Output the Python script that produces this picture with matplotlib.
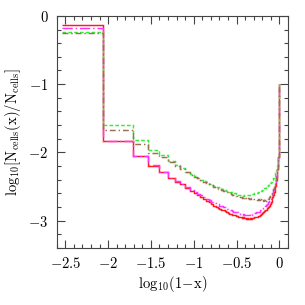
import numpy as np
import matplotlib
matplotlib.use('Agg')
import matplotlib.pyplot as plt
from matplotlib.ticker import MultipleLocator

plt.rcParams['mathtext.fontset'] = 'cm'

# bins in (1-x), width 0.01 -> centres 0.005 ... 0.995
bin_centres = np.arange(0.005, 1.0, 0.01)

red = [-0.13, -1.83, -2.05, -2.195, -2.29, -2.38, -2.43, -2.47, -2.52, -2.56,
       -2.60, -2.63, -2.66, -2.69, -2.71, -2.73, -2.76, -2.78, -2.80, -2.81,
       -2.83, -2.84, -2.85, -2.86, -2.88, -2.89, -2.90, -2.90, -2.91, -2.92,
       -2.92, -2.93, -2.93, -2.94, -2.94, -2.95, -2.95, -2.96, -2.95, -2.96,
       -2.96, -2.97, -2.96, -2.97, -2.97, -2.97, -2.96, -2.97, -2.96, -2.96,
       -2.96, -2.95, -2.95, -2.95, -2.94, -2.94, -2.93, -2.93, -2.93, -2.92,
       -2.91, -2.90, -2.90, -2.89, -2.88, -2.87, -2.86, -2.86, -2.85, -2.84,
       -2.84, -2.83, -2.82, -2.81, -2.80, -2.79, -2.78, -2.77, -2.75, -2.74,
       -2.72, -2.70, -2.68, -2.66, -2.64, -2.62, -2.60, -2.58, -2.55, -2.52,
       -2.49, -2.45, -2.41, -2.36, -2.31, -2.25, -2.17, -2.07, -1.90, -1.00]

magenta = [-0.18, -1.83, -2.05, -2.19, -2.29, -2.37, -2.42, -2.46, -2.51, -2.55,
           -2.58, -2.61, -2.63, -2.66, -2.68, -2.70, -2.72, -2.74, -2.75, -2.76,
           -2.78, -2.79, -2.80, -2.81, -2.83, -2.84, -2.85, -2.85, -2.86, -2.87,
           -2.87, -2.88, -2.88, -2.89, -2.89, -2.90, -2.90, -2.91, -2.90, -2.91,
           -2.91, -2.91, -2.91, -2.91, -2.91, -2.91, -2.90, -2.91, -2.90, -2.90,
           -2.90, -2.89, -2.89, -2.89, -2.88, -2.88, -2.87, -2.87, -2.87, -2.86,
           -2.85, -2.84, -2.84, -2.83, -2.82, -2.81, -2.80, -2.80, -2.79, -2.78,
           -2.77, -2.76, -2.75, -2.74, -2.73, -2.72, -2.71, -2.70, -2.68, -2.67,
           -2.65, -2.63, -2.61, -2.59, -2.57, -2.55, -2.53, -2.51, -2.48, -2.45,
           -2.43, -2.39, -2.35, -2.31, -2.26, -2.20, -2.12, -2.02, -1.86, -1.00]

green = [-0.23, -1.606, -1.815, -1.96, -2.04, -2.13, -2.19, -2.23, -2.28, -2.32,
         -2.35, -2.37, -2.40, -2.42, -2.44, -2.46, -2.47, -2.49, -2.50, -2.51,
         -2.52, -2.53, -2.54, -2.55, -2.56, -2.57, -2.58, -2.58, -2.59, -2.60,
         -2.60, -2.61, -2.62, -2.62, -2.63, -2.63, -2.63, -2.63, -2.64, -2.63,
         -2.63, -2.63, -2.63, -2.62, -2.62, -2.62, -2.62, -2.61, -2.61, -2.61,
         -2.61, -2.60, -2.60, -2.60, -2.59, -2.59, -2.59, -2.58, -2.58, -2.57,
         -2.57, -2.56, -2.56, -2.55, -2.55, -2.54, -2.53, -2.52, -2.52, -2.51,
         -2.50, -2.50, -2.49, -2.48, -2.48, -2.47, -2.46, -2.46, -2.45, -2.44,
         -2.43, -2.42, -2.41, -2.40, -2.39, -2.38, -2.37, -2.35, -2.34, -2.32,
         -2.30, -2.29, -2.27, -2.25, -2.23, -2.20, -2.16, -2.10, -1.95, -1.00]

brown = [-0.25, -1.675, -1.88, -2.01, -2.07, -2.14, -2.20, -2.24, -2.29, -2.33,
         -2.36, -2.38, -2.41, -2.43, -2.45, -2.47, -2.48, -2.50, -2.51, -2.53,
         -2.54, -2.55, -2.56, -2.57, -2.58, -2.59, -2.60, -2.61, -2.62, -2.63,
         -2.63, -2.64, -2.65, -2.65, -2.66, -2.66, -2.66, -2.67, -2.67, -2.66,
         -2.67, -2.67, -2.68, -2.67, -2.68, -2.68, -2.68, -2.67, -2.68, -2.69,
         -2.68, -2.69, -2.68, -2.69, -2.69, -2.70, -2.69, -2.69, -2.70, -2.69,
         -2.70, -2.69, -2.70, -2.71, -2.70, -2.70, -2.71, -2.70, -2.71, -2.70,
         -2.71, -2.70, -2.70, -2.69, -2.68, -2.67, -2.66, -2.65, -2.64, -2.62,
         -2.61, -2.59, -2.58, -2.56, -2.55, -2.53, -2.51, -2.49, -2.47, -2.45,
         -2.42, -2.39, -2.36, -2.33, -2.29, -2.24, -2.18, -2.10, -1.93, -1.00]

xticks = [-2.5, -2, -1.5, -1, -0.5, 0]
xtick_labels = [r'$-2.5$', r'$-2$', r'$-1.5$', r'$-1$', r'$-0.5$', r'$0$']
yticks = [0, -1, -2, -3]
ytick_labels = [r'$0$', r'$-1$', r'$-2$', r'$-3$']

# bin edges in log10(1-x)
c = np.log10(bin_centres)
edges = np.concatenate([[c[0] - (c[1] - c[0]) / 2], (c[1:] + c[:-1]) / 2, [c[-1] + (c[-1] - c[-2]) / 2]])

fig = plt.figure(figsize=(3.05, 3.05), dpi=100)
ax = fig.add_axes([0.186, 0.187, 0.758, 0.761])

lw = 1.05
ax.stairs(red, edges, baseline=None, color='#ff1a1a', lw=lw, linestyle='-')
ax.stairs(magenta, edges, baseline=None, color='#ff33ff', lw=lw, linestyle=(0, (7, 2, 1, 2)))
ax.stairs(green, edges, baseline=None, color='#33ee33', lw=lw, linestyle=(0, (2.5, 1.5)))
ax.stairs(brown, edges, baseline=None, color='#9a7050', lw=lw, linestyle=(0, (4, 2, 1, 2)))

ax.set_xlim(-2.6, 0.1)
ax.set_ylim(-3.4, 0)
ax.set_xticks(xticks)
ax.set_xticklabels(xtick_labels)
ax.set_yticks(yticks)
ax.set_yticklabels(ytick_labels)
ax.xaxis.set_minor_locator(MultipleLocator(0.1))
ax.yaxis.set_minor_locator(MultipleLocator(0.2))
ax.tick_params(which='both', direction='in', top=True, right=True, width=0.8, color='#444444', labelsize=10.5)
ax.tick_params(which='major', length=6, pad=6)
ax.tick_params(which='minor', length=3)
for s in ax.spines.values():
    s.set_linewidth(0.8)
    s.set_color('#444444')

ax.set_xlabel(r'$\mathrm{log_{10}(1\!-\!x)}$', fontsize=10.5, labelpad=2)
ax.set_ylabel(r'$\mathrm{log_{10}[N_{cells}(x)/N_{cells}]}$', fontsize=10.5, labelpad=4)

fig.savefig('out.png', dpi=100)
